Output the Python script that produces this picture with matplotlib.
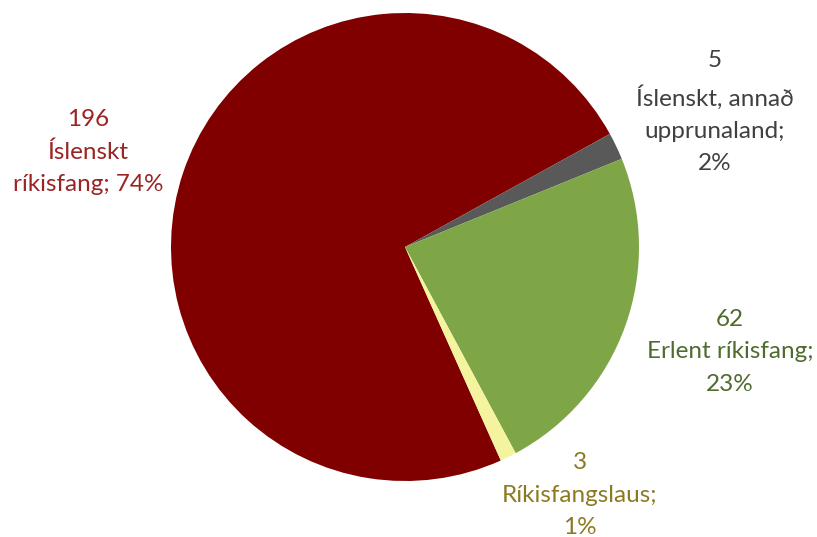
import matplotlib
matplotlib.use("Agg")
import matplotlib.pyplot as plt

categories = ["Íslenskt\nríkisfang", "Íslenskt, annað\nupprunaland", "Erlent ríkisfang", "Ríkisfangslaus"]
values = [196, 5, 62, 3]
label_pct_sep = ["; ", ";\n", ";\n", ";\n"]
colors = ["#800000", "#595959", "#7EA646", "#F4F49E"]
text_colors = ["#9B2424", "#404040", "#4F6B2E", "#8C7A22"]
# label centre positions in pixels (x, y from top)
label_pos = [(88, 152), (715, 112), (730, 352), (580, 495)]

W, H = 817, 537
fig = plt.figure(figsize=(W / 100, H / 100), dpi=100)
cx, cy, r = 405, 247, 234
ax = fig.add_axes([(cx - r) / W, (H - cy - r) / H, 2 * r / W, 2 * r / H])
total = sum(values)
startangle = 28.9 + values[0] / total * 360
ax.pie(values, colors=colors, startangle=startangle, counterclock=False,
       wedgeprops=dict(linewidth=0))
ax.set_xlim(-1, 1)
ax.set_ylim(-1, 1)
ax.set_aspect("equal")
ax.axis("off")

for name, v, sep, tc, (px, py) in zip(categories, values, label_pct_sep, text_colors, label_pos):
    pct = round(v / total * 100)
    txt = f"{v}\n{name}{sep}{pct}%"
    fig.text(px / W, 1 - py / H, txt, ha="center", va="center", color=tc,
             fontsize=17.5, family="Lato", linespacing=1.65, multialignment="center")

fig.savefig("out.png", dpi=100)
